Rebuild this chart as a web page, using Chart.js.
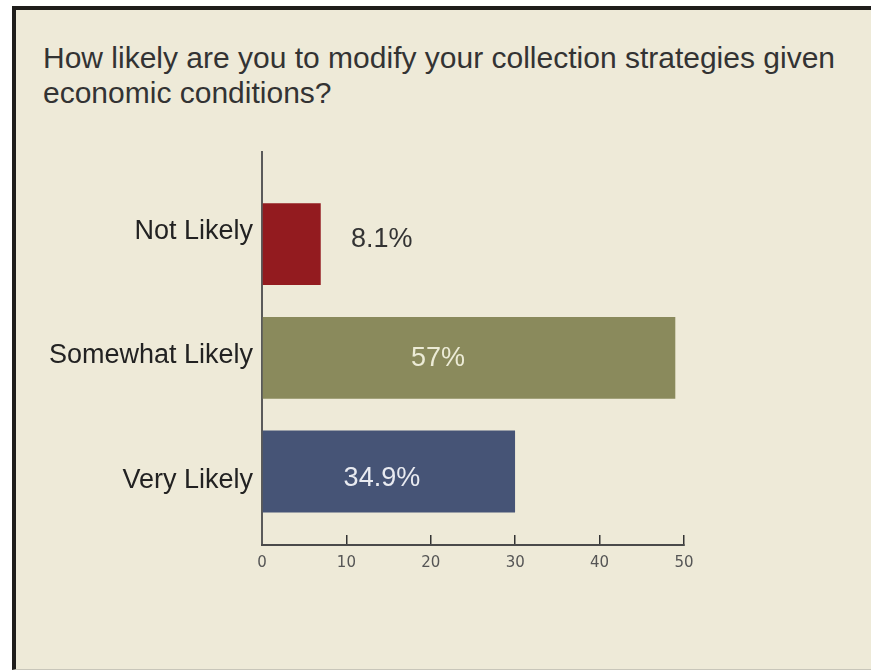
<!DOCTYPE html>
<html>
<head>
<meta charset="utf-8">
<title>Collection strategies</title>
<script src="https://cdn.jsdelivr.net/npm/chart.js@4.4.1/dist/chart.umd.min.js"></script>
<style>
  html, body { margin: 0; padding: 0; background: #fff; }
  body { width: 871px; height: 671px; position: relative; overflow: hidden; }
  .frame {
    position: absolute; left: 12px; top: 6px; width: 859px; height: 664px;
    box-sizing: border-box; background: #eeead8;
    border-top: 4px solid #1f1d1b; border-left: 4px solid #1f1d1b;
    border-bottom: 1px solid #c8c6ba;
  }
  .title {
    position: absolute; left: 43px; top: 40px; white-space: nowrap;
    font: 30px/35px "Liberation Sans", Arial, sans-serif; color: #333;
  }
  canvas { position: absolute; left: 0; top: 0; }
</style>
</head>
<body>
<div class="frame"></div>
<div class="title">How likely are you to modify your collection strategies given<br>economic conditions?</div>
<canvas id="chart" width="871" height="671"></canvas>
<script>
const categories = ['Not Likely', 'Somewhat Likely', 'Very Likely'];
const percentages = [8.1, 57, 34.9];
const tickLabels = ['0', '10', '20', '30', '40', '50'];

const barColors = ['#931b1f', '#8a8a5c', '#465476'];

// the 0-50 tick labels are spread evenly over the whole axis
const axisMax = 58.2;

// category names sit on a slightly wider pitch than the bars
const labelPitch = 1.094;
const labelStart = -0.11;

// percentage text next to / inside each bar
const valueLabelPlugin = {
  id: 'valueLabels',
  afterDatasetsDraw(chart, args, opts) {
    const { ctx } = chart;
    const meta = chart.getDatasetMeta(0);
    ctx.save();
    ctx.font = opts.font;
    ctx.textAlign = 'center';
    ctx.textBaseline = 'middle';
    meta.data.forEach((bar, i) => {
      const mid = (bar.x + bar.base) / 2;
      ctx.fillStyle = opts.colors[i];
      ctx.fillText(percentages[i] + '%', mid + opts.dx[i], bar.y + opts.dy[i]);
    });
    ctx.restore();
  }
};

new Chart(document.getElementById('chart'), {
  type: 'bar',
  data: {
    datasets: [{
      data: percentages.map((v, i) => ({ x: v, y: i })),
      backgroundColor: barColors,
      categoryPercentage: 1,
      barPercentage: 0.72
    }]
  },
  options: {
    indexAxis: 'y',
    responsive: false,
    animation: false,
    layout: { padding: { left: 42, top: 152, right: 187, bottom: 80 } },
    plugins: {
      legend: { display: false },
      tooltip: { enabled: false },
      valueLabels: {
        font: '27px "Liberation Sans", Arial, sans-serif',
        colors: ['#333', '#ecebd6', '#e9ebf1'],
        dx: [90, -31, -7],
        dy: [-5, 1, 7]
      }
    },
    scales: {
      y: {
        type: 'linear',
        reverse: true,
        offset: false,
        min: -0.81,
        max: 2.646,
        afterBuildTicks: (scale) => {
          scale.ticks = categories.map((_, i) => ({ value: labelStart + i * labelPitch }));
        },
        afterFit: (scale) => { scale.width = 220; },
        grid: { display: false, drawTicks: false, offset: false },
        border: { display: true, color: '#5a5a5a', width: 2 },
        ticks: {
          padding: 9,
          color: '#222',
          font: { family: '"Liberation Sans", Arial, sans-serif', size: 27 },
          callback: (v, i) => categories[i]
        }
      },
      x: {
        type: 'linear',
        min: 0,
        max: axisMax,
        afterBuildTicks: (scale) => {
          scale.ticks = tickLabels.map((_, i) => ({ value: i * axisMax / (tickLabels.length - 1) }));
        },
        grid: { drawOnChartArea: false, tickLength: -10, color: '#333', lineWidth: 1.5 },
        border: { color: '#4a4a4a', width: 2 },
        ticks: {
          padding: 19,
          color: '#555',
          font: { family: '"DejaVu Sans", sans-serif', size: 15 },
          callback: (v, i) => tickLabels[i]
        }
      }
    }
  },
  plugins: [valueLabelPlugin]
});
</script>
</body>
</html>
